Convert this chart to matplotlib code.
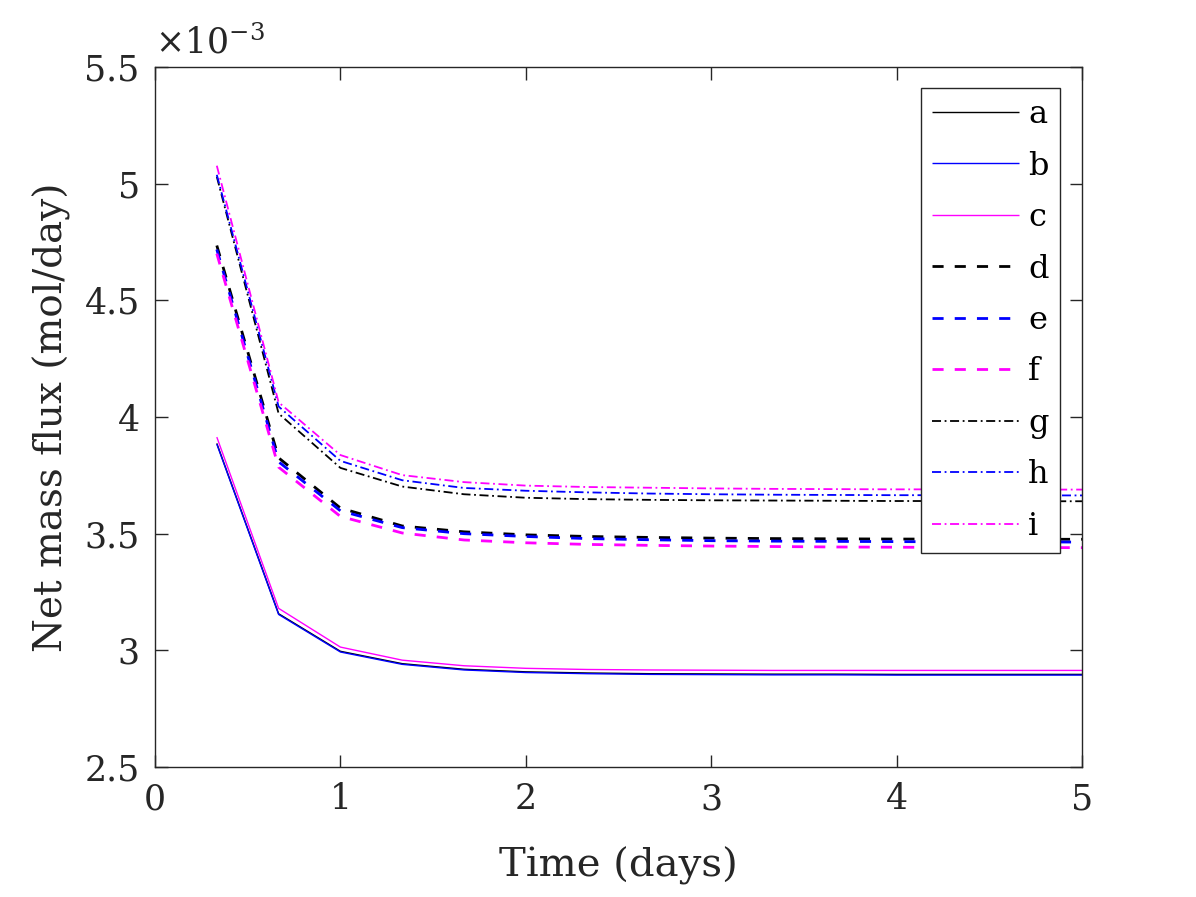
import matplotlib
matplotlib.use("Agg")
import matplotlib.pyplot as plt
import numpy as np

plt.rcParams['font.family'] = ['DejaVu Serif']
plt.rcParams['mathtext.fontset'] = 'dejavuserif'

# time points (days) and net mass flux values (x 1e-3 mol/day)
t = [1/3, 2/3, 1, 4/3, 5/3, 2, 7/3, 8/3, 3, 10/3, 11/3, 4, 13/3, 14/3, 5]

a = [3.887, 3.157, 2.996, 2.943, 2.919, 2.908, 2.903, 2.900, 2.899, 2.898, 2.898, 2.897, 2.897, 2.897, 2.897]
b = [3.884, 3.154, 2.993, 2.940, 2.916, 2.905, 2.900, 2.897, 2.896, 2.895, 2.895, 2.894, 2.894, 2.894, 2.894]
c = [3.914, 3.180, 3.014, 2.958, 2.934, 2.923, 2.918, 2.916, 2.915, 2.914, 2.914, 2.914, 2.914, 2.914, 2.914]
d = [4.735, 3.825, 3.610, 3.533, 3.508, 3.495, 3.488, 3.484, 3.481, 3.479, 3.478, 3.477, 3.477, 3.476, 3.476]
e = [4.718, 3.808, 3.598, 3.526, 3.500, 3.488, 3.479, 3.474, 3.470, 3.468, 3.467, 3.466, 3.465, 3.465, 3.464]
f = [4.700, 3.785, 3.574, 3.503, 3.473, 3.461, 3.454, 3.450, 3.447, 3.445, 3.443, 3.442, 3.441, 3.441, 3.440]
g = [5.030, 4.015, 3.782, 3.702, 3.669, 3.654, 3.648, 3.645, 3.643, 3.642, 3.641, 3.640, 3.640, 3.639, 3.639]
h = [5.038, 4.045, 3.812, 3.729, 3.696, 3.684, 3.677, 3.672, 3.669, 3.667, 3.666, 3.665, 3.665, 3.664, 3.664]
i = [5.077, 4.063, 3.837, 3.751, 3.721, 3.706, 3.700, 3.697, 3.694, 3.692, 3.691, 3.690, 3.690, 3.689, 3.689]

labels = ["a", "b", "c", "d", "e", "f", "g", "h", "i"]
series = [a, b, c, d, e, f, g, h, i]
colors = ["black", "blue", "magenta"] * 3
styles = [(0, ())] * 3 + [(0, (4, 4))] * 3 + [(0, (5, 2, 1, 2))] * 3
widths = [1.0] * 3 + [2.0] * 3 + [1.3] * 3

fig = plt.figure(figsize=(11.96, 8.97), dpi=100)
ax = fig.add_axes([0.1296, 0.1449, 0.7751, 0.7804])

for y, lab, col, ls, lw in zip(series, labels, colors, styles, widths):
    ax.plot(t, y, color=col, linestyle=ls, linewidth=lw, label=lab)

ax.set_xlim(0, 5)
ax.set_ylim(2.5, 5.5)
ax.set_xticks([0, 1, 2, 3, 4, 5])
ax.set_yticks([2.5, 3, 3.5, 4, 4.5, 5, 5.5])
ax.set_yticklabels(["2.5", "3", "3.5", "4", "4.5", "5", "5.5"])

dark = "#262626"
for s in ax.spines.values():
    s.set_color(dark)
    s.set_linewidth(1.0)
ax.tick_params(direction="in", length=9, width=1.0, top=True, right=True,
               labelsize=25, colors=dark, pad=11)

ax.set_xlabel("Time (days)", fontsize=29, color=dark, labelpad=22)
ax.set_ylabel("Net mass flux (mol/day)", fontsize=28, color=dark, labelpad=10)

ax.text(0.0, 1.01, r"$\times10^{-3}$", transform=ax.transAxes, fontsize=25,
        color=dark, ha="left", va="bottom")

leg = ax.legend(loc="upper right", bbox_to_anchor=(0.976, 0.97), fontsize=23,
                frameon=True, fancybox=False, handlelength=2.7, handletextpad=0.3,
                labelspacing=0.64, borderpad=0.35, borderaxespad=0)
leg.get_frame().set_edgecolor(dark)
leg.get_frame().set_linewidth(1.0)
leg.get_frame().set_alpha(1.0)

fig.savefig("out.png", dpi=100)
